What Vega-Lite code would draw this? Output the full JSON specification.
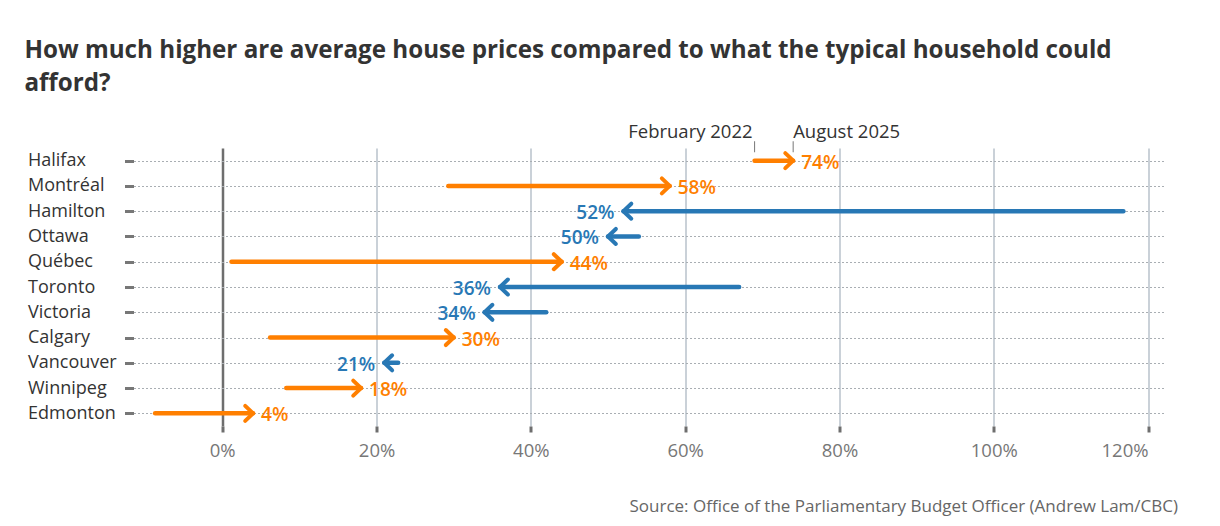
{
  "$schema": "https://vega.github.io/schema/vega-lite/v6.json",
  "width": 1030,
  "height": 278,
  "padding": {"left": 24.5, "top": 39, "right": 10, "bottom": 5},
  "background": "white",
  "title": {
    "text": ["How much higher are average house prices compared to what the typical household could", "afford?"],
    "anchor": "start",
    "frame": "bounds",
    "font": "Open Sans",
    "fontSize": 24.2,
    "fontWeight": "bold",
    "color": "#333333",
    "lineHeight": 33,
    "dx": -3,
    "offset": 26
  },
  "config": {
    "view": {"stroke": null},
    "font": "Open Sans"
  },
  "data": {
    "values": [
      {"city": "Halifax", "feb2022": 0.69, "aug2025": 0.74, "change": "increase"},
      {"city": "Montréal", "feb2022": 0.293, "aug2025": 0.58, "change": "increase"},
      {"city": "Hamilton", "feb2022": 1.168, "aug2025": 0.52, "change": "decrease"},
      {"city": "Ottawa", "feb2022": 0.54, "aug2025": 0.50, "change": "decrease"},
      {"city": "Québec", "feb2022": 0.012, "aug2025": 0.44, "change": "increase"},
      {"city": "Toronto", "feb2022": 0.67, "aug2025": 0.36, "change": "decrease"},
      {"city": "Victoria", "feb2022": 0.42, "aug2025": 0.34, "change": "decrease"},
      {"city": "Calgary", "feb2022": 0.062, "aug2025": 0.30, "change": "increase"},
      {"city": "Vancouver", "feb2022": 0.228, "aug2025": 0.21, "change": "decrease"},
      {"city": "Winnipeg", "feb2022": 0.083, "aug2025": 0.18, "change": "increase"},
      {"city": "Edmonton", "feb2022": -0.087, "aug2025": 0.04, "change": "increase"}
    ]
  },
  "encoding": {
    "y": {
      "field": "city",
      "type": "nominal",
      "sort": null,
      "scale": {"type": "point", "padding": 0.5},
      "axis": {
        "title": null,
        "domain": false,
        "grid": true,
        "gridColor": "#a9aeb3",
        "gridDash": [2, 2],
        "gridWidth": 1,
        "ticks": true,
        "tickColor": "#777777",
        "tickSize": 9,
        "tickWidth": 3,
        "labelAlign": "left",
        "labelPadding": 97,
        "labelFont": "Open Sans",
        "labelFontSize": 18,
        "labelColor": "#333333"
      }
    }
  },
  "layer": [
    {
      "mark": {"type": "rule", "strokeWidth": 4.5, "strokeCap": "round"},
      "encoding": {
        "x": {
          "field": "feb2022",
          "type": "quantitative",
          "scale": {"domain": [-0.115, 1.22], "nice": false, "zero": false},
          "axis": {
            "values": [0, 0.2, 0.4, 0.6, 0.8, 1.0, 1.2],
            "format": ".0%",
            "domain": false,
            "grid": true,
            "gridColor": {"condition": {"test": "datum.value === 0", "value": "#6e6e6e"}, "value": "#b8c2cb"},
            "gridWidth": {"condition": {"test": "datum.value === 0", "value": 2.5}, "value": 1.5},
            "tickColor": "#6e6e6e",
            "tickWidth": 3,
            "tickSize": 6,
            "labelFont": "Open Sans",
            "labelFontSize": 18.5,
            "labelColor": "#777777",
            "labelPadding": 9,
            "labelAlign": {"condition": {"test": "datum.value === 1.2", "value": "right"}, "value": "center"},
            "title": "Source: Office of the Parliamentary Budget Officer (Andrew Lam/CBC)",
            "titleFont": "Open Sans",
            "titleFontSize": 17,
            "titleFontWeight": "normal",
            "titleColor": "#666666",
            "titleAnchor": "end",
            "titleAlign": "right",
            "titleX": 1044,
            "titlePadding": 39
          }
        },
        "x2": {"field": "aug2025"},
        "color": {
          "field": "change",
          "type": "nominal",
          "scale": {"domain": ["increase", "decrease"], "range": ["#ff7f00", "#2878b5"]},
          "legend": null
        }
      }
    },
    {
      "mark": {"type": "point", "filled": false, "strokeWidth": 4, "strokeCap": "round", "strokeJoin": "round", "opacity": 1, "size": 225},
      "encoding": {
        "x": {"field": "aug2025", "type": "quantitative"},
        "shape": {
          "field": "change",
          "type": "nominal",
          "scale": {"domain": ["increase", "decrease"], "range": ["M-1.05,-1L0,0L-1.05,1", "M1.05,-1L0,0L1.05,1"]},
          "legend": null
        },
        "color": {"field": "change", "type": "nominal", "legend": null}
      }
    },
    {
      "transform": [{"filter": "datum.change === 'increase'"}],
      "mark": {"type": "text", "align": "left", "baseline": "middle", "dx": 8, "dy": 2, "font": "Open Sans", "fontSize": 19, "fontWeight": 600},
      "encoding": {
        "x": {"field": "aug2025", "type": "quantitative"},
        "text": {"field": "aug2025", "type": "quantitative", "format": ".0%"},
        "color": {"field": "change", "type": "nominal", "legend": null}
      }
    },
    {
      "transform": [{"filter": "datum.change === 'decrease'"}],
      "mark": {"type": "text", "align": "right", "baseline": "middle", "dx": -9, "dy": 2, "font": "Open Sans", "fontSize": 19, "fontWeight": 600},
      "encoding": {
        "x": {"field": "aug2025", "type": "quantitative"},
        "text": {"field": "aug2025", "type": "quantitative", "format": ".0%"},
        "color": {"field": "change", "type": "nominal", "legend": null}
      }
    },
    {
      "transform": [{"filter": "datum.city === 'Halifax'"}],
      "mark": {"type": "text", "text": "February 2022", "align": "right", "baseline": "alphabetic", "dx": -2, "dy": -23, "font": "Open Sans", "fontSize": 18.5, "color": "#333333"},
      "encoding": {
        "x": {"field": "feb2022", "type": "quantitative"}
      }
    },
    {
      "transform": [{"filter": "datum.city === 'Halifax'"}],
      "mark": {"type": "text", "text": "August 2025", "align": "left", "baseline": "alphabetic", "dx": 0, "dy": -23, "font": "Open Sans", "fontSize": 18.5, "color": "#333333"},
      "encoding": {
        "x": {"field": "aug2025", "type": "quantitative"}
      }
    },
    {
      "transform": [{"filter": "datum.city === 'Halifax'"}],
      "mark": {"type": "tick", "orient": "vertical", "color": "#777777", "thickness": 1, "size": 11, "yOffset": -14, "opacity": 1},
      "encoding": {
        "x": {"field": "feb2022", "type": "quantitative"}
      }
    },
    {
      "transform": [{"filter": "datum.city === 'Halifax'"}],
      "mark": {"type": "tick", "orient": "vertical", "color": "#777777", "thickness": 1, "size": 11, "yOffset": -14, "opacity": 1},
      "encoding": {
        "x": {"field": "aug2025", "type": "quantitative"}
      }
    }
  ]
}
